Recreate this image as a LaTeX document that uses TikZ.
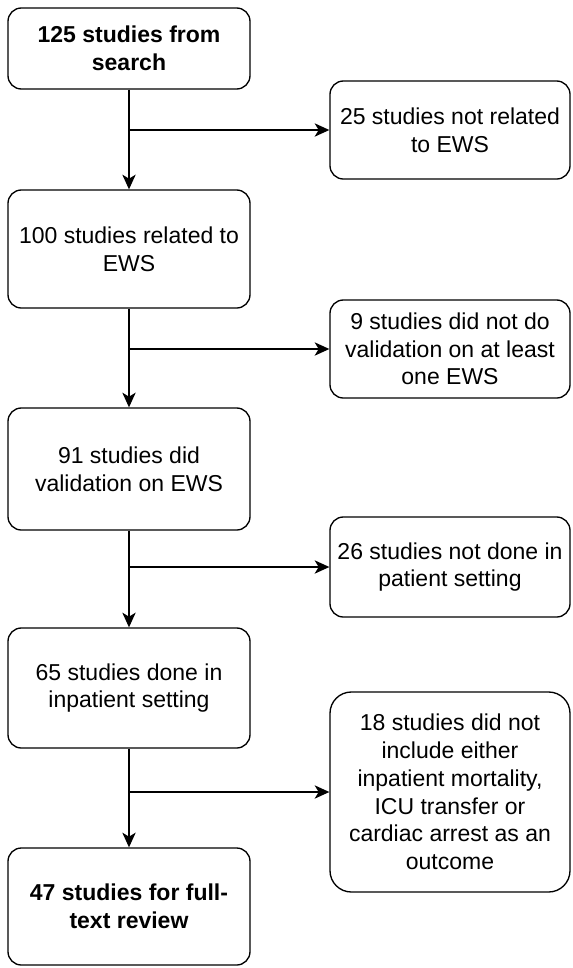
\documentclass[tikz,border=0pt]{standalone}
\usepackage{fontspec}
\setmainfont{Liberation Sans}
\usetikzlibrary{arrows.meta}
\tikzset{
  box/.style={draw, rounded corners=10pt, line width=1pt, align=center, inner sep=2pt,
    font=\fontsize{17.25}{20.8}\selectfont},
  leftbox/.style={box, minimum width=181.5pt},
  rightbox/.style={box, minimum width=180pt},
  flow/.style={line width=1pt, -{Stealth[length=11pt,width=10pt,inset=3pt]}},
}
\begin{document}
\begin{tikzpicture}[x=0.75pt,y=-0.75pt]
			%%%%% START %%%%%
			\useasboundingbox (0,0) rectangle (572,968);
			
			% main column
			\node[leftbox, minimum height=60.75pt] (search) at (129,48.5) {\bfseries 125 studies from\\\bfseries search};
			\node[leftbox, minimum height=88.5pt] (related) at (129,249) {100 studies related to\\EWS};
			\node[leftbox, minimum height=91.5pt] (valid) at (129,469) {91 studies did\\validation on EWS};
			\node[leftbox, minimum height=90pt] (inpat) at (129,688) {65 studies done in\\inpatient setting};
			\node[leftbox, minimum height=87.75pt] (review) at (129,906.5) {\bfseries 47 studies for full-\\\bfseries text review};
			
			% excluded column
			\node[rightbox, minimum height=73.5pt] (notrel) at (450,130) {25 studies not related\\to EWS};
			\node[rightbox, minimum height=73.5pt] (noval) at (450,349) {9 studies did not do\\validation on at least\\one EWS};
			\node[rightbox, minimum height=75pt] (nopat) at (450,567) {26 studies not done in\\patient setting};
			\node[rightbox, minimum height=150pt, rounded corners=16pt] (noout) at (450,792) {18 studies did not\\include either\\inpatient mortality,\\ICU transfer or\\cardiac arrest as an\\outcome};
			
			% arrows
			\draw[flow] (search) -- (related);
			\draw[flow] (related) -- (valid);
			\draw[flow] (valid) -- (inpat);
			\draw[flow] (inpat) -- (review);
			
			\draw[flow] (search.south |- notrel.west) -- (notrel.west);
			\draw[flow] (related.south |- noval.west) -- (noval.west);
			\draw[flow] (valid.south |- nopat.west) -- (nopat.west);
			\draw[flow] (inpat.south |- noout.west) -- (noout.west);
			
			%%%%% END %%%%%
\end{tikzpicture}
\end{document}
